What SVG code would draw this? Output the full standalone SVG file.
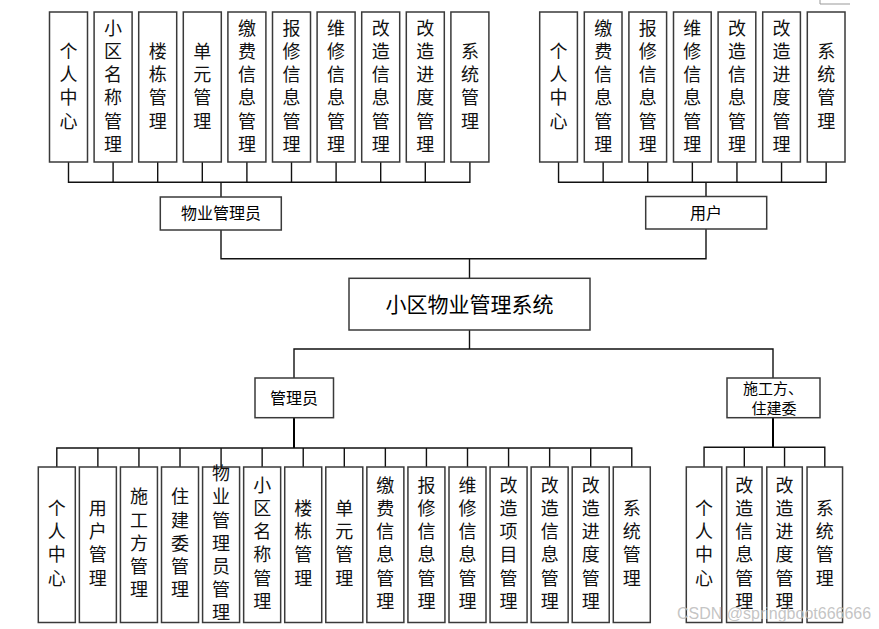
<svg xmlns="http://www.w3.org/2000/svg" width="879" height="629" viewBox="0 0 879 629">
<style>
.bx{fill:#fff;stroke:#3a3a3a;stroke-width:1.5}
.v{font-family:"Noto Sans CJK SC","Noto Sans",sans-serif;font-size:18px;fill:#111;text-anchor:middle;writing-mode:vertical-rl;glyph-orientation-vertical:0;letter-spacing:5.2px}
.l{font-family:"Noto Sans CJK SC","Noto Sans",sans-serif;font-size:16px;fill:#000;text-anchor:middle}
.c{fill:none;stroke:#111;stroke-width:1.4}
.ct{fill:none;stroke:#000;stroke-width:2}
</style>
<rect width="879" height="629" fill="#fff"/>
<path d="M820 0V4H850" fill="none" stroke="#999" stroke-width="1"/>
<g id="connectors">
<path class="c" d="M68.5 162V182.3H469.9V162M113.1 162V182.3M157.7 162V182.3M202.3 162V182.3M246.9 162V182.3M291.5 162V182.3M336.1 162V182.3M380.7 162V182.3M425.3 162V182.3M221 182.3V197"/>
<path class="c" d="M558.55 162V182.3H826.15V162M603.15 162V182.3M647.75 162V182.3M692.35 162V182.3M736.95 162V182.3M781.55 162V182.3M706 182.3V196.5"/>
<path class="c" d="M221 230V258.7H706V229M469.5 258.7V278.3"/>
<path class="c" d="M469.5 330V349H294V378M469.5 349H773V378"/>
<path class="ct" d="M294 418V448"/>
<path class="c" d="M56.8 467V448H631.78V467M97.87 448V467M138.94 448V467M180.01 448V467M221.08 448V467M262.15 448V467M303.22 448V467M344.29 448V467M385.36 448V467M426.43 448V467M467.5 448V467M508.57 448V467M549.64 448V467M590.71 448V467"/>
<path class="ct" d="M773 418V447.3"/>
<path class="c" d="M704.05 467V447.3H824.8V467M744.3 447.3V467M784.55 447.3V467"/>
</g>
<g id="root"><rect class="bx" x="349" y="278.3" width="241" height="51.7"/><text x="469.5" y="311.5" class="l" style="font-size:21px">小区物业管理系统</text></g>
<g id="wygly"><rect class="bx" x="160.3" y="197" width="121" height="33"/><text x="221" y="219" class="l">物业管理员</text></g>
<g id="yh"><rect class="bx" x="645.7" y="196.5" width="121" height="32.5"/><text x="706" y="218.5" class="l">用户</text></g>
<g id="gly"><rect class="bx" x="255" y="378" width="78.5" height="39.7"/><text x="294" y="403.5" class="l">管理员</text></g>
<g id="sgf"><rect class="bx" x="727" y="378" width="93" height="39.7"/><text x="773" y="393.5" class="l" style="font-size:15px">施工方、</text><text x="774" y="414" class="l" style="font-size:15px">住建委</text></g>

<g id="tl1"><rect class="bx" x="49.5" y="12" width="38" height="150"/><text class="v" x="68.5" y="88.6">个人中心</text></g>
<g id="tl2"><rect class="bx" x="94.1" y="12" width="38" height="150"/><text class="v" x="113.1" y="88.6">小区名称管理</text></g>
<g id="tl3"><rect class="bx" x="138.7" y="12" width="38" height="150"/><text class="v" x="157.7" y="88.6">楼栋管理</text></g>
<g id="tl4"><rect class="bx" x="183.3" y="12" width="38" height="150"/><text class="v" x="202.3" y="88.6">单元管理</text></g>
<g id="tl5"><rect class="bx" x="227.9" y="12" width="38" height="150"/><text class="v" x="246.9" y="88.6">缴费信息管理</text></g>
<g id="tl6"><rect class="bx" x="272.5" y="12" width="38" height="150"/><text class="v" x="291.5" y="88.6">报修信息管理</text></g>
<g id="tl7"><rect class="bx" x="317.1" y="12" width="38" height="150"/><text class="v" x="336.1" y="88.6">维修信息管理</text></g>
<g id="tl8"><rect class="bx" x="361.7" y="12" width="38" height="150"/><text class="v" x="380.7" y="88.6">改造信息管理</text></g>
<g id="tl9"><rect class="bx" x="406.3" y="12" width="38" height="150"/><text class="v" x="425.3" y="88.6">改造进度管理</text></g>
<g id="tl10"><rect class="bx" x="450.9" y="12" width="38" height="150"/><text class="v" x="469.9" y="88.6">系统管理</text></g>

<g id="tr1"><rect class="bx" x="539.7" y="12" width="37.7" height="150"/><text class="v" x="558.55" y="88.6">个人中心</text></g>
<g id="tr2"><rect class="bx" x="584.3" y="12" width="37.7" height="150"/><text class="v" x="603.15" y="88.6">缴费信息管理</text></g>
<g id="tr3"><rect class="bx" x="628.9" y="12" width="37.7" height="150"/><text class="v" x="647.75" y="88.6">报修信息管理</text></g>
<g id="tr4"><rect class="bx" x="673.5" y="12" width="37.7" height="150"/><text class="v" x="692.35" y="88.6">维修信息管理</text></g>
<g id="tr5"><rect class="bx" x="718.1" y="12" width="37.7" height="150"/><text class="v" x="736.95" y="88.6">改造信息管理</text></g>
<g id="tr6"><rect class="bx" x="762.7" y="12" width="37.7" height="150"/><text class="v" x="781.55" y="88.6">改造进度管理</text></g>
<g id="tr7"><rect class="bx" x="807.3" y="12" width="37.7" height="150"/><text class="v" x="826.15" y="88.6">系统管理</text></g>

<g id="b1"><rect class="bx" x="38.3" y="467" width="37" height="155.5"/><text class="v" x="56.8" y="545.6">个人中心</text></g>
<g id="b2"><rect class="bx" x="79.37" y="467" width="37" height="155.5"/><text class="v" x="97.87" y="545.6">用户管理</text></g>
<g id="b3"><rect class="bx" x="120.44" y="467" width="37" height="155.5"/><text class="v" x="138.94" y="545.6">施工方管理</text></g>
<g id="b4"><rect class="bx" x="161.51" y="467" width="37" height="155.5"/><text class="v" x="180.01" y="545.6">住建委管理</text></g>
<g id="b5"><rect class="bx" x="202.58" y="467" width="37" height="155.5"/><text class="v" x="221.08" y="545.6">物业管理员管理</text></g>
<g id="b6"><rect class="bx" x="243.65" y="467" width="37" height="155.5"/><text class="v" x="262.15" y="545.6">小区名称管理</text></g>
<g id="b7"><rect class="bx" x="284.72" y="467" width="37" height="155.5"/><text class="v" x="303.22" y="545.6">楼栋管理</text></g>
<g id="b8"><rect class="bx" x="325.79" y="467" width="37" height="155.5"/><text class="v" x="344.29" y="545.6">单元管理</text></g>
<g id="b9"><rect class="bx" x="366.86" y="467" width="37" height="155.5"/><text class="v" x="385.36" y="545.6">缴费信息管理</text></g>
<g id="b10"><rect class="bx" x="407.93" y="467" width="37" height="155.5"/><text class="v" x="426.43" y="545.6">报修信息管理</text></g>
<g id="b11"><rect class="bx" x="449" y="467" width="37" height="155.5"/><text class="v" x="467.5" y="545.6">维修信息管理</text></g>
<g id="b12"><rect class="bx" x="490.07" y="467" width="37" height="155.5"/><text class="v" x="508.57" y="545.6">改造项目管理</text></g>
<g id="b13"><rect class="bx" x="531.14" y="467" width="37" height="155.5"/><text class="v" x="549.64" y="545.6">改造信息管理</text></g>
<g id="b14"><rect class="bx" x="572.21" y="467" width="37" height="155.5"/><text class="v" x="590.71" y="545.6">改造进度管理</text></g>
<g id="b15"><rect class="bx" x="613.28" y="467" width="37" height="155.5"/><text class="v" x="631.78" y="545.6">系统管理</text></g>

<g id="s1"><rect class="bx" x="686.3" y="467" width="35.5" height="155.5"/><text class="v" x="704.05" y="545.6">个人中心</text></g>
<g id="s2"><rect class="bx" x="726.55" y="467" width="35.5" height="155.5"/><text class="v" x="744.3" y="545.6">改造信息管理</text></g>
<g id="s3"><rect class="bx" x="766.8" y="467" width="35.5" height="155.5"/><text class="v" x="784.55" y="545.6">改造进度管理</text></g>
<g id="s4"><rect class="bx" x="807.05" y="467" width="35.5" height="155.5"/><text class="v" x="824.8" y="545.6">系统管理</text></g>

<text x="677" y="619" style="font-family:'Liberation Sans',Arial,sans-serif;font-size:16px;fill:#bdbdbd;fill-opacity:0.9">CSDN @springboot666666</text>
</svg>
